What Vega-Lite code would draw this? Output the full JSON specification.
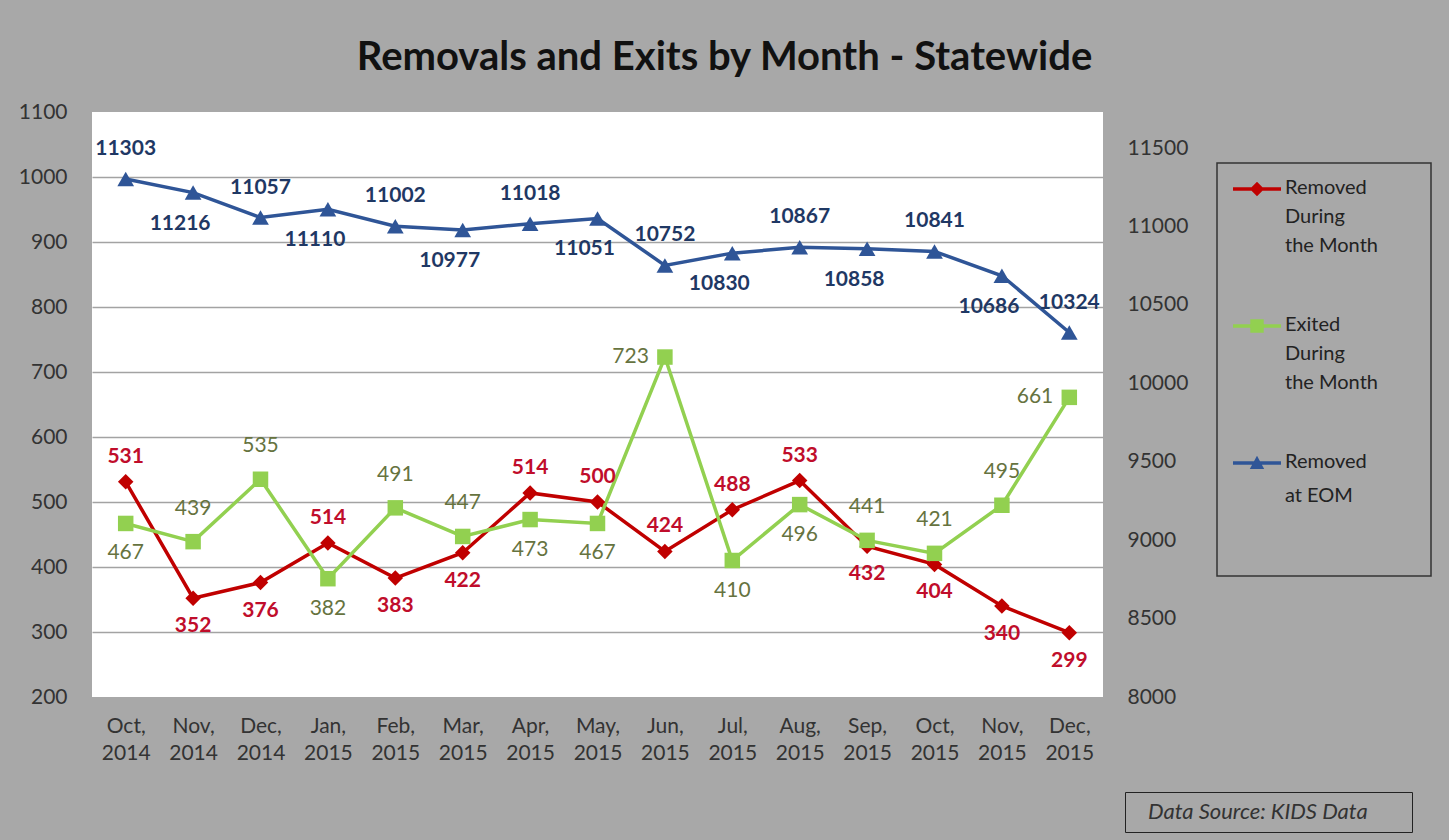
{
  "$schema": "https://vega.github.io/schema/vega-lite/v6.json",
  "width": 1011,
  "height": 585,
  "autosize": "none",
  "padding": {"left": 92, "top": 112, "right": 346, "bottom": 143},
  "background": "#a8a8a8",
  "config": {
    "view": {"fill": "#ffffff", "stroke": null},
    "font": "Lato",
    "axis": {"labelFont": "Lato", "labelFontSize": 21, "labelColor": "#333333", "domain": false, "ticks": false, "title": null}
  },
  "title": {
    "text": "Removals and Exits by Month - Statewide",
    "font": "Lato", "fontSize": 40, "fontWeight": "bold", "color": "#111111",
    "anchor": "middle", "frame": "group", "dx": 127, "baseline": "alphabetic", "offset": -9
  },
  "datasets": {
    "main": [
      {"month": "Oct, 2014", "series": "Removed During the Month", "value": 531, "label": 531},
      {"month": "Nov, 2014", "series": "Removed During the Month", "value": 352, "label": 352},
      {"month": "Dec, 2014", "series": "Removed During the Month", "value": 376, "label": 376},
      {"month": "Jan, 2015", "series": "Removed During the Month", "value": 437, "label": 514},
      {"month": "Feb, 2015", "series": "Removed During the Month", "value": 383, "label": 383},
      {"month": "Mar, 2015", "series": "Removed During the Month", "value": 422, "label": 422},
      {"month": "Apr, 2015", "series": "Removed During the Month", "value": 514, "label": 514},
      {"month": "May, 2015", "series": "Removed During the Month", "value": 500, "label": 500},
      {"month": "Jun, 2015", "series": "Removed During the Month", "value": 424, "label": 424},
      {"month": "Jul, 2015", "series": "Removed During the Month", "value": 488, "label": 488},
      {"month": "Aug, 2015", "series": "Removed During the Month", "value": 533, "label": 533},
      {"month": "Sep, 2015", "series": "Removed During the Month", "value": 432, "label": 432},
      {"month": "Oct, 2015", "series": "Removed During the Month", "value": 404, "label": 404},
      {"month": "Nov, 2015", "series": "Removed During the Month", "value": 340, "label": 340},
      {"month": "Dec, 2015", "series": "Removed During the Month", "value": 299, "label": 299},
      {"month": "Oct, 2014", "series": "Exited During the Month", "value": 467, "label": 467},
      {"month": "Nov, 2014", "series": "Exited During the Month", "value": 439, "label": 439},
      {"month": "Dec, 2014", "series": "Exited During the Month", "value": 535, "label": 535},
      {"month": "Jan, 2015", "series": "Exited During the Month", "value": 382, "label": 382},
      {"month": "Feb, 2015", "series": "Exited During the Month", "value": 491, "label": 491},
      {"month": "Mar, 2015", "series": "Exited During the Month", "value": 447, "label": 447},
      {"month": "Apr, 2015", "series": "Exited During the Month", "value": 473, "label": 473},
      {"month": "May, 2015", "series": "Exited During the Month", "value": 467, "label": 467},
      {"month": "Jun, 2015", "series": "Exited During the Month", "value": 723, "label": 723},
      {"month": "Jul, 2015", "series": "Exited During the Month", "value": 410, "label": 410},
      {"month": "Aug, 2015", "series": "Exited During the Month", "value": 496, "label": 496},
      {"month": "Sep, 2015", "series": "Exited During the Month", "value": 441, "label": 441},
      {"month": "Oct, 2015", "series": "Exited During the Month", "value": 421, "label": 421},
      {"month": "Nov, 2015", "series": "Exited During the Month", "value": 495, "label": 495},
      {"month": "Dec, 2015", "series": "Exited During the Month", "value": 661, "label": 661},
      {"month": "Oct, 2014", "series": "Removed at EOM", "value": 11303, "label": 11303},
      {"month": "Nov, 2014", "series": "Removed at EOM", "value": 11216, "label": 11216},
      {"month": "Dec, 2014", "series": "Removed at EOM", "value": 11057, "label": 11057},
      {"month": "Jan, 2015", "series": "Removed at EOM", "value": 11110, "label": 11110},
      {"month": "Feb, 2015", "series": "Removed at EOM", "value": 11002, "label": 11002},
      {"month": "Mar, 2015", "series": "Removed at EOM", "value": 10977, "label": 10977},
      {"month": "Apr, 2015", "series": "Removed at EOM", "value": 11018, "label": 11018},
      {"month": "May, 2015", "series": "Removed at EOM", "value": 11051, "label": 11051},
      {"month": "Jun, 2015", "series": "Removed at EOM", "value": 10752, "label": 10752},
      {"month": "Jul, 2015", "series": "Removed at EOM", "value": 10830, "label": 10830},
      {"month": "Aug, 2015", "series": "Removed at EOM", "value": 10867, "label": 10867},
      {"month": "Sep, 2015", "series": "Removed at EOM", "value": 10858, "label": 10858},
      {"month": "Oct, 2015", "series": "Removed at EOM", "value": 10841, "label": 10841},
      {"month": "Nov, 2015", "series": "Removed at EOM", "value": 10686, "label": 10686},
      {"month": "Dec, 2015", "series": "Removed at EOM", "value": 10324, "label": 10324}
    ],
    "source": [{"note": "Data Source: KIDS Data"}]
  },
  "layer": [
    {
      "data": {"name": "main"},
      "transform": [{"filter": "datum.series !== 'Removed at EOM'"}],
      "encoding": {
        "x": {"field": "month", "type": "ordinal", "sort": null, "scale": {"type": "point", "padding": 0.5},
              "axis": {"labelAngle": 0, "labelExpr": "split(datum.label, ' ')", "labelLineHeight": 27, "labelPadding": 18, "grid": false}},
        "y": {"field": "value", "type": "quantitative", "scale": {"domain": [200, 1100], "nice": false, "zero": false},
              "axis": {"orient": "left", "format": "d", "values": [200, 300, 400, 500, 600, 700, 800, 900, 1000, 1100], "grid": true,
                       "gridColor": {"condition": {"test": "datum.value == 200 || datum.value == 1100", "value": "transparent"}, "value": "#a3a3a3"},
                       "gridWidth": 1.5, "labelPadding": 25}}
      },
      "layer": [
        {
          "mark": {"type": "line", "strokeWidth": 3.5},
          "encoding": {
            "color": {"field": "series", "type": "nominal",
              "scale": {"domain": ["Removed During the Month", "Exited During the Month", "Removed at EOM"], "range": ["#c00000", "#92d050", "#2f5597"]},
              "legend": {
                "orient": "none", "legendX": 1125, "legendY": 51,
                "title": " ", "titleOrient": "right", "titlePadding": 51,
                "strokeColor": "#333333", "padding": 2, "symbolOffset": 14, "rowPadding": 46,
                "labelFont": "Lato", "labelFontSize": 20, "labelColor": "#222222", "labelLimit": 400, "labelOffset": 4,
                "symbolSize": 2304, "labelBaseline": "top",
                "labelExpr": "datum.label == 'Removed During the Month' ? ['Removed', 'During', 'the Month'] : datum.label == 'Exited During the Month' ? ['Exited', 'During', 'the Month'] : ['Removed', 'at EOM', '', '']",
                "encode": {
                  "symbols": {"update": {
                    "shape": {"signal": "datum.value === 'Removed During the Month' ? 'M-1,-0.07H1V0.07H-1Z M0,-0.3L0.3,0L0,0.3L-0.3,0Z' : datum.value === 'Exited During the Month' ? 'M-1,-0.07H1V0.07H-1Z M-0.28,-0.28H0.28V0.28H-0.28Z' : 'M-1,-0.07H1V0.07H-1Z M0,-0.3L0.3,0.25H-0.3Z'"},
                    "fill": {"signal": "datum.value === 'Removed During the Month' ? '#c00000' : datum.value === 'Exited During the Month' ? '#92d050' : '#2f5597'"},
                    "strokeWidth": {"value": 0},
                    "opacity": {"value": 1}
                  }},
                  "labels": {"update": {"lineHeight": {"signal": "datum.index === 2 ? 34 : 29"}, "dy": {"value": -11}}},
                  "legend": {"update": {"strokeWidth": {"value": 1.5}}}
                }
              }
            }
          }
        },
        {
          "transform": [{"filter": "datum.series === 'Removed During the Month'"}],
          "mark": {"type": "point", "shape": "diamond", "filled": true, "opacity": 1, "size": 240, "color": "#c00000"}
        },
        {
          "transform": [{"filter": "datum.series === 'Exited During the Month'"}],
          "mark": {"type": "point", "shape": "square", "filled": true, "opacity": 1, "size": 240, "color": "#92d050"}
        },
        {
          "transform": [{"filter": "datum.series === 'Removed During the Month' && indexof(['Oct, 2014','Jan, 2015','Apr, 2015','May, 2015','Jun, 2015','Jul, 2015','Aug, 2015'], datum.month) >= 0"}],
          "mark": {"type": "text", "dy": -25, "fontSize": 21, "fontWeight": "bold", "color": "#c00d2b", "baseline": "middle"},
          "encoding": {"text": {"field": "label", "type": "nominal"}}
        },
        {
          "transform": [{"filter": "datum.series === 'Removed During the Month' && indexof(['Oct, 2014','Jan, 2015','Apr, 2015','May, 2015','Jun, 2015','Jul, 2015','Aug, 2015'], datum.month) < 0"}],
          "mark": {"type": "text", "dy": 28, "fontSize": 21, "fontWeight": "bold", "color": "#c00d2b", "baseline": "middle"},
          "encoding": {"text": {"field": "label", "type": "nominal"}}
        },
        {
          "transform": [{"filter": "datum.series === 'Exited During the Month' && indexof(['Nov, 2014','Dec, 2014','Feb, 2015','Mar, 2015','Sep, 2015','Oct, 2015','Nov, 2015'], datum.month) >= 0"}],
          "mark": {"type": "text", "dy": -33, "fontSize": 21, "color": "#66733f", "baseline": "middle"},
          "encoding": {"text": {"field": "label", "type": "nominal"}}
        },
        {
          "transform": [{"filter": "datum.series === 'Exited During the Month' && indexof(['Jun, 2015','Dec, 2015'], datum.month) >= 0"}],
          "mark": {"type": "text", "dx": -16, "align": "right", "fontSize": 21, "color": "#66733f", "baseline": "middle"},
          "encoding": {"text": {"field": "label", "type": "nominal"}}
        },
        {
          "transform": [{"filter": "datum.series === 'Exited During the Month' && indexof(['Nov, 2014','Dec, 2014','Feb, 2015','Mar, 2015','Sep, 2015','Oct, 2015','Nov, 2015','Jun, 2015','Dec, 2015'], datum.month) < 0"}],
          "mark": {"type": "text", "dy": 30, "fontSize": 21, "color": "#66733f", "baseline": "middle"},
          "encoding": {"text": {"field": "label", "type": "nominal"}}
        }
      ]
    },
    {
      "data": {"name": "main"},
      "transform": [{"filter": "datum.series === 'Removed at EOM'"}],
      "encoding": {
        "x": {"field": "month", "type": "ordinal", "sort": null, "scale": {"type": "point", "padding": 0.5},
              "axis": {"labelAngle": 0, "labelExpr": "split(datum.label, ' ')", "labelLineHeight": 27, "labelPadding": 18, "grid": false}},
        "y": {"field": "value", "type": "quantitative", "scale": {"domain": [8000, 11730], "nice": false, "zero": false},
              "axis": {"orient": "right", "format": "d", "values": [8000, 8500, 9000, 9500, 10000, 10500, 11000, 11500], "grid": false, "labelPadding": 24}}
      },
      "layer": [
        {
          "mark": {"type": "line", "strokeWidth": 3.5},
          "encoding": {"color": {"field": "series", "type": "nominal"}}
        },
        {
          "mark": {"type": "point", "shape": "triangle-up", "filled": true, "opacity": 1, "size": 280, "color": "#2f5597"}
        },
        {
          "transform": [{"filter": "indexof(['Oct, 2014','Dec, 2014','Feb, 2015','Apr, 2015','Jun, 2015','Aug, 2015','Oct, 2015','Dec, 2015'], datum.month) >= 0"}],
          "mark": {"type": "text", "dy": -30, "fontSize": 21, "fontWeight": "bold", "color": "#1f3864", "baseline": "middle"},
          "encoding": {"text": {"field": "label", "type": "nominal"}}
        },
        {
          "transform": [{"filter": "indexof(['Oct, 2014','Dec, 2014','Feb, 2015','Apr, 2015','Jun, 2015','Aug, 2015','Oct, 2015','Dec, 2015'], datum.month) < 0"}],
          "mark": {"type": "text", "dy": 31, "dx": -13, "fontSize": 21, "fontWeight": "bold", "color": "#1f3864", "baseline": "middle"},
          "encoding": {"text": {"field": "label", "type": "nominal"}}
        }
      ]
    },
    {
      "data": {"name": "source"},
      "mark": {"type": "point", "opacity": 0},
      "encoding": {
        "x": {"value": 0},
        "y": {"value": 0},
        "strokeDash": {"field": "note", "type": "nominal",
          "legend": {"orient": "none", "legendX": 1033, "legendY": 680, "title": " ", "titleOrient": "right", "titlePadding": 35,
                     "strokeColor": "#222222", "padding": 9, "symbolSize": 0, "symbolOpacity": 0, "labelOffset": -8,
                     "labelFont": "Lato", "labelFontSize": 22, "labelFontStyle": "italic", "labelColor": "#333333", "labelLimit": 400,
                     "encode": {"legend": {"update": {"strokeWidth": {"value": 2}}}}}}
      }
    }
  ],
  "resolve": {"scale": {"y": "independent"}}
}
